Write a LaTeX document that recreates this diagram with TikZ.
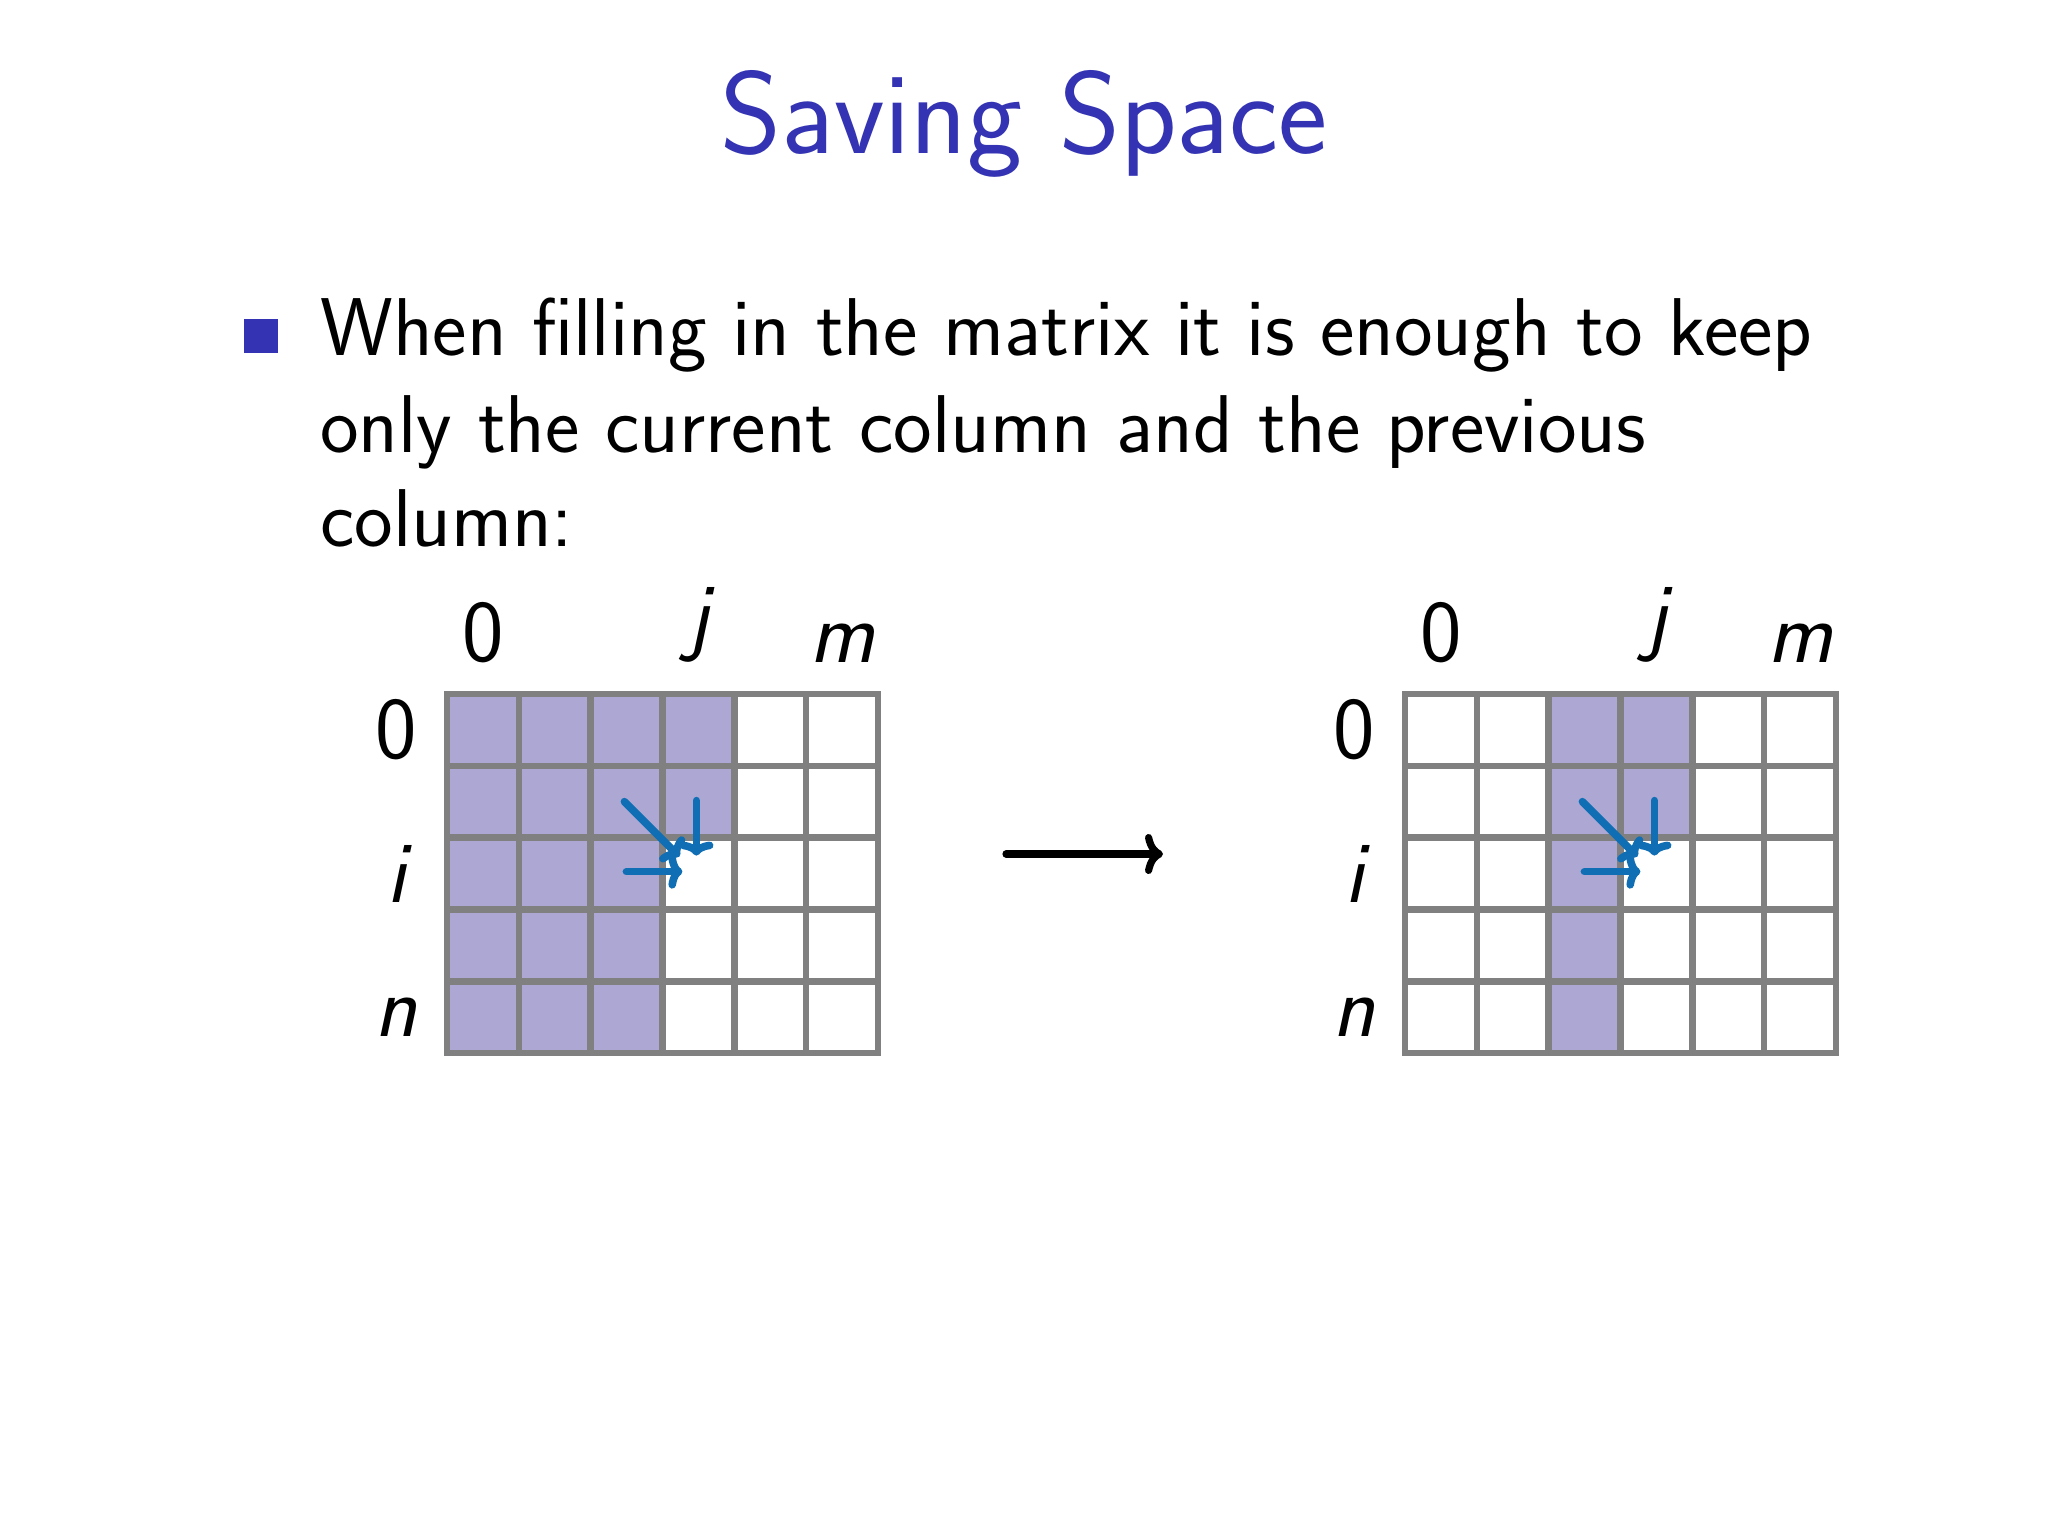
\documentclass[tikz,border=0pt]{standalone}
\usetikzlibrary{arrows.meta}
\definecolor{titleblue}{RGB}{51,51,179}
\definecolor{cellfill}{RGB}{173,168,211}
\definecolor{gridgray}{RGB}{128,128,128}
\definecolor{arrowblue}{RGB}{16,110,181}
\newcommand\cellsz{71.8}
\newcommand\matgrid[2]{% #1 = x0, #2 = y0
  \foreach \k in {0,...,6} {
    \draw[gridline] ({#1+\k*\cellsz},#2) -- ({#1+\k*\cellsz},{#2+5*\cellsz});
  }
  \foreach \k in {0,...,5} {
    \draw[gridline] (#1,{#2+\k*\cellsz}) -- ({#1+6*\cellsz},{#2+\k*\cellsz});
  }
}
\begin{document}
\begin{tikzpicture}[x=0.5pt,y=-0.5pt,
  gridline/.style={gridgray,line width=3.3pt,line cap=rect},
  cellbox/.style={fill=cellfill},
  lbl/.style={font=\sffamily\fontsize{44}{50}\selectfont,inner sep=0pt},
  bodytext/.style={anchor=base west,inner sep=0pt,font=\sffamily\fontsize{41}{48}\selectfont},
  dparrow/.style={arrowblue,line width=3.8pt,line cap=round,-{To[length=7pt,width=17pt,round]}},
  bigarrow/.style={black,line width=3.6pt,line cap=round,-{To[length=9pt,width=20pt,round]}}]
\useasboundingbox[fill=white] (0,0) rectangle (2048,1536);

% title
\node[anchor=base,inner sep=0pt,text=titleblue,font=\sffamily\fontsize{58.5}{70}\selectfont] (title) at (1024,154) {Saving Space};

% bullet and text
\node[fill=titleblue,minimum size=17pt,inner sep=0pt] (bullet) at (261,336) {};
\node[bodytext] (l1) at (320,355) {When filling in the matrix it is enough to keep};
\node[bodytext] (l2) at (320,452) {only the current column and the previous};
\node[bodytext] (l3) at (320,546) {column:};

% ---------- left matrix ----------
\def\xa{447}\def\ya{694}
\foreach \c in {0,1,2} {
  \fill[cellbox] ({\xa+\c*\cellsz},\ya) rectangle ({\xa+(\c+1)*\cellsz},{\ya+5*\cellsz});
}
\fill[cellbox] ({\xa+3*\cellsz},\ya) rectangle ({\xa+4*\cellsz},{\ya+2*\cellsz});
\matgrid{\xa}{\ya}
\node[lbl,anchor=south] (lc0) at ({\xa+0.5*\cellsz},663) {0};
\node[lbl,anchor=south] (lcj) at ({\xa+3.5*\cellsz},663) {\itshape j};
\node[lbl,anchor=south] (lcm) at ({\xa+5.5*\cellsz},663) {\itshape m};
\node[lbl] (lr0) at ({\xa-51},{\ya+0.5*\cellsz}) {0};
\node[lbl] (lri) at ({\xa-51},{\ya+2.5*\cellsz}) {\itshape i};
\node[lbl] (lrn) at ({\xa-51},{\ya+4.5*\cellsz}) {\itshape n};
% arrows into cell (i,j)
\coordinate (lc) at ({\xa+3*\cellsz},{\ya+2*\cellsz});
\coordinate (ld1) at ([shift={(-38,-36)}]lc);
\coordinate (ld2) at ([shift={(17,19)}]lc);
\coordinate (lv1) at ([shift={(34,-37)}]lc);
\coordinate (lv2) at ([shift={(34,18)}]lc);
\coordinate (lh1) at ([shift={(-36,34)}]lc);
\coordinate (lh2) at ([shift={(20,34)}]lc);
\draw[dparrow] (ld1) -- (ld2);
\draw[dparrow] (lv1) -- (lv2);
\draw[dparrow] (lh1) -- (lh2);

% middle arrow
\coordinate (m1) at (1006,854);
\coordinate (m2) at (1163,854);
\draw[bigarrow] (m1) -- (m2);

% ---------- right matrix ----------
\def\xb{1405}\def\yb{694}
\fill[cellbox] ({\xb+2*\cellsz},\yb) rectangle ({\xb+3*\cellsz},{\yb+5*\cellsz});
\fill[cellbox] ({\xb+3*\cellsz},\yb) rectangle ({\xb+4*\cellsz},{\yb+2*\cellsz});
\matgrid{\xb}{\yb}
\node[lbl,anchor=south] (rc0) at ({\xb+0.5*\cellsz},663) {0};
\node[lbl,anchor=south] (rcj) at ({\xb+3.5*\cellsz},663) {\itshape j};
\node[lbl,anchor=south] (rcm) at ({\xb+5.5*\cellsz},663) {\itshape m};
\node[lbl] (rr0) at ({\xb-51},{\yb+0.5*\cellsz}) {0};
\node[lbl] (rri) at ({\xb-51},{\yb+2.5*\cellsz}) {\itshape i};
\node[lbl] (rrn) at ({\xb-51},{\yb+4.5*\cellsz}) {\itshape n};
\coordinate (rc) at ({\xb+3*\cellsz},{\yb+2*\cellsz});
\coordinate (rd1) at ([shift={(-38,-36)}]rc);
\coordinate (rd2) at ([shift={(17,19)}]rc);
\coordinate (rv1) at ([shift={(34,-37)}]rc);
\coordinate (rv2) at ([shift={(34,18)}]rc);
\coordinate (rh1) at ([shift={(-36,34)}]rc);
\coordinate (rh2) at ([shift={(20,34)}]rc);
\draw[dparrow] (rd1) -- (rd2);
\draw[dparrow] (rv1) -- (rv2);
\draw[dparrow] (rh1) -- (rh2);
\end{tikzpicture}
\end{document}
